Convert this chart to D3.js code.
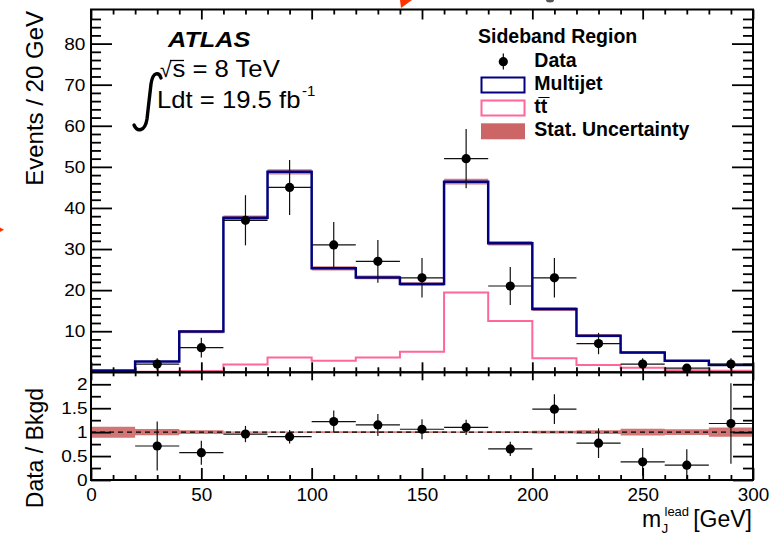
<!DOCTYPE html>
<html>
<head>
<meta charset="utf-8">
<script src="https://cdn.jsdelivr.net/npm/d3@7"></script>
<style>
  body { margin: 0; background: #fff; }
  svg { display: block; font-family: "Liberation Sans", Arial, Helvetica, sans-serif; }
  .tick line { stroke: #000; stroke-width: 1.8; }
  .domain { display: none; }
</style>
</head>
<body>
<svg id="chart" width="778" height="537"></svg>
<script>
// bins of leading-jet mass, 20 GeV wide
const binEdges = [0, 20, 40, 60, 80, 100, 120, 140, 160, 180, 200, 220, 240, 260, 280, 300];

// total background (multijet histogram) and ttbar, events / 20 GeV
const multijet = [0.45, 2.6, 9.9, 37.6, 48.8, 25.3, 23.1, 21.5, 46.4, 31.4, 15.4, 8.9, 4.8, 2.8, 1.75];
const ttbar    = [0.1, 0.15, 0.3, 1.9, 3.6, 2.8, 3.6, 5.0, 19.4, 12.5, 3.4, 1.75, 1.1, 0.5, 0.35];

// relative stat. uncertainty on the background
const statRel  = [0.115, 0.063, 0.04, 0.015, 0.013, 0.02, 0.02, 0.02, 0.015, 0.018, 0.03, 0.04, 0.07, 0.06, 0.095];

// data points
const dataVals = [null, 2, 6, 37, 45, 31, 27, 23, 52, 21, 23, 7, 2, 1, 2];
const dataErr  = [null, 1.4, 2.4, 6.1, 6.7, 5.6, 5.2, 4.8, 7.2, 4.6, 4.8, 2.6, 1.4, 1.0, 1.4];

// data / background
const ratioVals = [null, 0.71, 0.57, 0.96, 0.905, 1.22, 1.15, 1.06, 1.10, 0.65, 1.48, 0.77, 0.38, 0.31, 1.18];
const ratioErr  = [null, 0.51, 0.25, 0.17, 0.14, 0.23, 0.23, 0.21, 0.16, 0.15, 0.31, 0.31, 0.29, 0.33, 0.84];

// tick labels
const xMajor = [0, 50, 100, 150, 200, 250, 300];
const yMainMajor = [10, 20, 30, 40, 50, 60, 70, 80];
const yRatioMajor = [0, 0.5, 1, 1.5, 2];

const BLUE = "#000080";
const PINK = "#ff6699";
const BAND = "#cc6666";
const FONT = "'Liberation Sans', Arial, Helvetica, sans-serif";

const svg = d3.select("#chart");

// ── scales ────────────────────────────────────────────────
const x = d3.scaleLinear().domain([0, 300]).range([91, 753]);
const yMain = d3.scaleLinear().domain([0, 88.3]).range([372.3, 9.5]);
const yRatio = d3.scaleLinear().domain([0, 2.25]).range([480, 372.3]);

const xMinor = d3.range(0, 301, 10).filter(d => d % 50 !== 0);
const yMainMinor = d3.range(0, 88, 2).filter(d => d % 10 !== 0);
const yRatioMinor = [0.25, 0.75, 1.25, 1.75];

const n = multijet.length;
const centers = binEdges.slice(0, n).map((e, i) => (e + binEdges[i + 1]) / 2);
const stepPts = vals => binEdges.map((e, i) => [e, vals[Math.min(i, n - 1)]]);

// ── helpers ───────────────────────────────────────────────
function ticks(g, axis, values, size) {
  g.call(axis.tickValues(values).tickSize(size).tickFormat(""));
}

function stretchLabels(g, sx) {
  g.selectAll("text").attr("transform", `scale(${sx},1)`);
}

function label(x0, y0, str, size, sx = 1) {
  return svg.append("text")
    .attr("transform", `translate(${x0},${y0}) scale(${sx},1)`)
    .attr("font-size", size).text(str);
}

// ── main panel ────────────────────────────────────────────
const mainBand = d3.area()
  .curve(d3.curveStepAfter)
  .x(d => x(d[0]))
  .y0(d => yMain(d[1] * (1 - d[2])))
  .y1(d => yMain(d[1] * (1 + d[2])));

svg.append("path")
  .datum(binEdges.map((e, i) => [e, multijet[Math.min(i, n - 1)], statRel[Math.min(i, n - 1)]]))
  .attr("d", mainBand)
  .attr("fill", BAND)
  .attr("opacity", 0.85);

const stepLine = d3.line().curve(d3.curveStepAfter).x(d => x(d[0])).y(d => yMain(d[1]));

svg.append("path").datum(stepPts(ttbar)).attr("d", stepLine)
  .attr("fill", "none").attr("stroke", PINK).attr("stroke-width", 2);

svg.append("path").datum(stepPts(multijet)).attr("d", stepLine)
  .attr("fill", "none").attr("stroke", BLUE).attr("stroke-width", 2.5);

// data points
const pts = centers.map((c, i) => ({ c, v: dataVals[i], e: dataErr[i] })).filter(d => d.v !== null);
const dg = svg.append("g");
dg.selectAll(".hbar").data(pts).join("line")
  .attr("x1", d => x(d.c - 10)).attr("x2", d => x(d.c + 10))
  .attr("y1", d => yMain(d.v)).attr("y2", d => yMain(d.v))
  .attr("stroke", "#111").attr("stroke-width", 1.2);
dg.selectAll(".vbar").data(pts).join("line")
  .attr("x1", d => x(d.c)).attr("x2", d => x(d.c))
  .attr("y1", d => yMain(d.v + d.e)).attr("y2", d => yMain(Math.max(0, d.v - d.e)))
  .attr("stroke", "#111").attr("stroke-width", 1.2);
dg.selectAll("circle").data(pts).join("circle")
  .attr("cx", d => x(d.c)).attr("cy", d => yMain(d.v)).attr("r", 4.6).attr("fill", "#000");

// ── ratio panel ───────────────────────────────────────────
const ratioBand = d3.area()
  .curve(d3.curveStepAfter)
  .x(d => x(d[0]))
  .y0(d => yRatio(1 - d[1]))
  .y1(d => yRatio(1 + d[1]));

svg.append("path")
  .datum(binEdges.map((e, i) => [e, statRel[Math.min(i, n - 1)]]))
  .attr("d", ratioBand)
  .attr("fill", BAND)
  .attr("opacity", 0.9);

svg.append("line")
  .attr("x1", x(0)).attr("x2", x(300))
  .attr("y1", yRatio(1)).attr("y2", yRatio(1))
  .attr("stroke", "#000").attr("stroke-width", 1.4).attr("stroke-dasharray", "5,4");

const rpts = centers.map((c, i) => ({ c, v: ratioVals[i], e: ratioErr[i] })).filter(d => d.v !== null);
const rg = svg.append("g");
rg.selectAll(".hbar").data(rpts).join("line")
  .attr("x1", d => x(d.c - 10)).attr("x2", d => x(d.c + 10))
  .attr("y1", d => yRatio(d.v)).attr("y2", d => yRatio(d.v))
  .attr("stroke", "#111").attr("stroke-width", 1.2);
rg.selectAll(".vbar").data(rpts).join("line")
  .attr("x1", d => x(d.c)).attr("x2", d => x(d.c))
  .attr("y1", d => yRatio(Math.min(2.25, d.v + d.e))).attr("y2", d => yRatio(Math.max(0, d.v - d.e)))
  .attr("stroke", "#111").attr("stroke-width", 1.2);
rg.selectAll("circle").data(rpts).join("circle")
  .attr("cx", d => x(d.c)).attr("cy", d => yRatio(d.v)).attr("r", 4.6).attr("fill", "#000");

// ── frames and ticks ──────────────────────────────────────
svg.append("rect").attr("x", 91).attr("y", 9.5).attr("width", 662).attr("height", 362.8)
  .attr("fill", "none").attr("stroke", "#000").attr("stroke-width", 2);
svg.append("rect").attr("x", 91).attr("y", 372.3).attr("width", 662).attr("height", 107.7)
  .attr("fill", "none").attr("stroke", "#000").attr("stroke-width", 2);

// main panel
ticks(svg.append("g").attr("transform", "translate(0,372.3)"), d3.axisBottom(x), xMinor, -5);
ticks(svg.append("g").attr("transform", "translate(0,372.3)"), d3.axisBottom(x), xMajor, -10);
ticks(svg.append("g").attr("transform", "translate(0,9.5)"), d3.axisTop(x), xMinor, -5);
ticks(svg.append("g").attr("transform", "translate(0,9.5)"), d3.axisTop(x), xMajor, -10);
ticks(svg.append("g").attr("transform", "translate(91,0)"), d3.axisLeft(yMain), yMainMinor, -10);
ticks(svg.append("g").attr("transform", "translate(753,0)"), d3.axisRight(yMain), yMainMinor, -10);
ticks(svg.append("g").attr("transform", "translate(753,0)"), d3.axisRight(yMain), yMainMajor, -21);

const yMainAxis = svg.append("g").attr("transform", "translate(91,0)")
  .call(d3.axisLeft(yMain).tickValues(yMainMajor).tickSize(-21).tickPadding(5));
yMainAxis.selectAll("text").attr("font-size", 17).attr("font-family", FONT).attr("fill", "#000");
stretchLabels(yMainAxis, 1.12);

// ratio panel
ticks(svg.append("g").attr("transform", "translate(0,372.3)"), d3.axisTop(x), xMinor, -4);
ticks(svg.append("g").attr("transform", "translate(0,372.3)"), d3.axisTop(x), xMajor, -8);
ticks(svg.append("g").attr("transform", "translate(0,480)"), d3.axisBottom(x), xMinor, -5);
ticks(svg.append("g").attr("transform", "translate(91,0)"), d3.axisLeft(yRatio), yRatioMinor, -10);
ticks(svg.append("g").attr("transform", "translate(753,0)"), d3.axisRight(yRatio), yRatioMinor, -10);
ticks(svg.append("g").attr("transform", "translate(753,0)"), d3.axisRight(yRatio), yRatioMajor, -20);

const xAxis = svg.append("g").attr("transform", "translate(0,480)")
  .call(d3.axisBottom(x).tickValues(xMajor).tickSize(-12).tickPadding(9));
xAxis.selectAll("text").attr("font-size", 17.5).attr("font-family", FONT).attr("fill", "#000");
stretchLabels(xAxis, 1.08);

const yRatioAxis = svg.append("g").attr("transform", "translate(91,0)")
  .call(d3.axisLeft(yRatio).tickValues(yRatioMajor).tickSize(-20).tickPadding(3)
    .tickFormat(d => d3.format("")(d)));
yRatioAxis.selectAll("text").attr("font-size", 17).attr("font-family", FONT).attr("fill", "#000");
stretchLabels(yRatioAxis, 1.12);

// ── axis titles ───────────────────────────────────────────
svg.append("text")
  .attr("transform", "translate(43,11) rotate(-90)")
  .attr("text-anchor", "end").attr("font-size", 24).text("Events / 20 GeV");

svg.append("text")
  .attr("transform", "translate(43,388) rotate(-90)")
  .attr("text-anchor", "end").attr("font-size", 23).text("Data / Bkgd");

label(642, 527, "m", 23);
label(661.5, 532.5, "J", 13.5);
label(664.5, 516, "lead", 13);
svg.append("text").attr("x", 752).attr("y", 527).attr("text-anchor", "end")
  .attr("font-size", 23).text("[GeV]");

// ── ATLAS label ───────────────────────────────────────────
label(168, 46.7, "ATLAS", 22, 1.15)
  .attr("font-weight", "bold").attr("font-style", "italic");

label(160, 76.7, "\u221A", 21);
svg.append("line").attr("x1", 170).attr("x2", 184).attr("y1", 60.5).attr("y2", 60.5)
  .attr("stroke", "#000").attr("stroke-width", 1.3);
label(172.5, 76.7, "s = 8 TeV", 24, 1.07);

svg.append("path")
  .attr("d", "M134,125 C137,132 145,132 147,119 L151,84 C153,71 159,72 161,78")
  .attr("fill", "none").attr("stroke", "#000").attr("stroke-width", 3.4).attr("stroke-linecap", "round");
label(157, 108.3, "Ldt = 19.5 fb", 24, 1.07);
label(302, 96, "-1", 15);

// ── legend ────────────────────────────────────────────────
const lg = svg.append("g").attr("font-weight", "bold").attr("font-size", 19.5);
lg.append("text").attr("x", 478).attr("y", 42.7).text("Sideband Region");
const rows = ["Data", "Multijet", "tt\u0305", "Stat. Uncertainty"];
const rowY = [66.7, 90, 113, 136];
rows.forEach((r, i) => {
  lg.append("text").attr("x", 534.3).attr("y", rowY[i]).text(r);
});
lg.append("line").attr("x1", 503.3).attr("x2", 503.3).attr("y1", 53.5).attr("y2", 69.5)
  .attr("stroke", "#000").attr("stroke-width", 1.2);
lg.append("circle").attr("cx", 503.3).attr("cy", 61.7).attr("r", 4.6).attr("fill", "#000");
lg.append("rect").attr("x", 481.5).attr("y", 77.5).attr("width", 43).attr("height", 15)
  .attr("fill", "none").attr("stroke", BLUE).attr("stroke-width", 2);
lg.append("rect").attr("x", 481.5).attr("y", 100.5).attr("width", 43).attr("height", 15)
  .attr("fill", "none").attr("stroke", PINK).attr("stroke-width", 2);
lg.append("rect").attr("x", 481).attr("y", 123.3).attr("width", 44).attr("height", 16)
  .attr("fill", BAND);

// ── stray marks at the crop edges of the original picture ─
svg.append("path").attr("d", "M400,0 L412,0 L401,8 Z").attr("fill", "#ff3300");
svg.append("ellipse").attr("cx", 550).attr("cy", 0).attr("rx", 4).attr("ry", 2.5).attr("fill", "#555");
svg.append("path").attr("d", "M0,227.5 L4,229.7 L0,232 Z").attr("fill", "#ff3300");
</script>
</body>
</html>
